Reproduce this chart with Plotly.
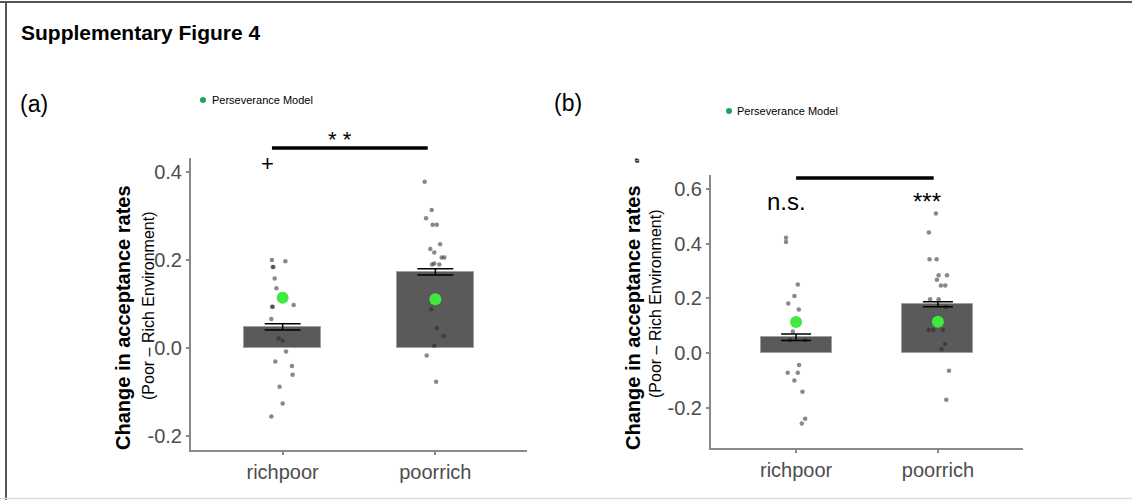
import plotly.graph_objects as go

W, H = 1132, 500

# ---------------- data ----------------
categories = ["richpoor", "poorrich"]
cat_pos = [1, 2]

# Panel (a)
a_bar_means = [0.048, 0.173]
a_bar_se = [0.007, 0.007]
a_model = [0.114, 0.111]
a_rich_vals = [0.200, 0.197, 0.184, 0.184, 0.158, 0.136, 0.094, 0.094, 0.098, 0.066,
               0.022, 0.017, -0.008, -0.031, -0.041, -0.061, -0.088, -0.126, -0.156]
a_rich_jitter = [-0.07, 0.018, -0.065, -0.06, -0.052, -0.041, -0.069, -0.065, 0.072, -0.074,
                 -0.026, 0.0, 0.022, -0.048, 0.061, 0.065, -0.02, 0.0, -0.074]
a_poor_vals = [0.378, 0.314, 0.295, 0.280, 0.280, 0.236, 0.225, 0.217, 0.206, 0.206,
               0.190, 0.190, 0.192, 0.088, 0.045, 0.027, 0.005, -0.017, -0.077]
a_poor_jitter = [-0.07, -0.024, -0.061, -0.018, 0.009, 0.031, -0.033, -0.007, 0.041, 0.059,
                 -0.022, 0.026, -0.007, -0.028, 0.009, 0.054, -0.007, -0.057, 0.005]
a_yticks = [-0.2, 0.0, 0.2, 0.4]
a_yticktext = ["-0.2", "0.0", "0.2", "0.4"]

# Panel (b)
b_bar_means = [0.057, 0.178]
b_bar_se = [0.012, 0.009]
b_model = [0.113, 0.114]
b_rich_vals = [0.421, 0.406, 0.250, 0.208, 0.181, 0.159, 0.078, 0.047, 0.047, -0.044,
               -0.073, -0.073, -0.101, -0.142, -0.241, -0.258]
b_rich_jitter = [-0.071, -0.071, 0.012, -0.012, -0.055, 0.019, -0.023, -0.043, 0.064, 0.021,
                 -0.059, 0.012, -0.012, 0.045, 0.064, 0.04]
b_poor_vals = [0.510, 0.441, 0.343, 0.343, 0.284, 0.284, 0.268, 0.247, 0.247, 0.196,
               0.196, 0.168, 0.084, 0.084, 0.084, 0.033, 0.013, -0.065, -0.171]
b_poor_jitter = [-0.014, -0.064, -0.059, -0.009, 0.005, 0.064, -0.007, 0.021, 0.052, -0.055,
                 0.005, 0.057, -0.066, -0.033, 0.035, 0.052, 0.026, 0.078, 0.059]
b_yticks = [-0.2, 0.0, 0.2, 0.4, 0.6]
b_yticktext = ["-0.2", "0.0", "0.2", "0.4", "0.6"]

title_text = "Supplementary Figure 4"
ytitle_main = "Change in acceptance rates"
ytitle_sub = "(Poor – Rich Environment)"
legend_label = "Perseverance Model"

# ---------------- helpers ----------------
def px(x):
    return x / W

def py(y):
    return 1 - y / H

FONT = "Arial, Liberation Sans, sans-serif"
BAR_COLOR = "#5a5a5a"
PT_COLOR = "rgba(40,40,40,0.55)"
MODEL_COLOR = "#3fe93f"
LEG_COLOR = "#1fa35c"
AXIS_COLOR = "#8a8a8a"
TICK_FONT = dict(family=FONT, size=20, color="#4d4d4d")

fig = go.Figure()

def add_panel(xa, ya, means, se, model, rv, rj, pv, pj, capw):
    fig.add_trace(go.Bar(
        x=cat_pos, y=means, width=0.5, xaxis=xa, yaxis=ya,
        marker=dict(color=BAR_COLOR, line=dict(color="#a0a0a0", width=1)),
        showlegend=False, hoverinfo="skip"))
    fig.add_trace(go.Scatter(
        x=[cat_pos[0] + j for j in rj] + [cat_pos[1] + j for j in pj],
        y=rv + pv, mode="markers", xaxis=xa, yaxis=ya,
        marker=dict(color=PT_COLOR, size=4.5),
        showlegend=False, hoverinfo="skip"))
    fig.add_trace(go.Scatter(
        x=cat_pos, y=means, mode="markers", xaxis=xa, yaxis=ya,
        marker=dict(color="rgba(0,0,0,0)", size=1),
        error_y=dict(type="data", array=se, color="black", thickness=1.5, width=capw),
        showlegend=False, hoverinfo="skip"))
    fig.add_trace(go.Scatter(
        x=cat_pos, y=model, mode="markers", xaxis=xa, yaxis=ya,
        marker=dict(color=MODEL_COLOR, size=12),
        showlegend=False, hoverinfo="skip"))

add_panel("x", "y", a_bar_means, a_bar_se, a_model,
          a_rich_vals, a_rich_jitter, a_poor_vals, a_poor_jitter, 18)
add_panel("x2", "y2", b_bar_means, b_bar_se, b_model,
          b_rich_vals, b_rich_jitter, b_poor_vals, b_poor_jitter, 15)

axis_common = dict(showgrid=False, zeroline=False, showline=True, linecolor=AXIS_COLOR,
                   linewidth=2, ticks="outside", ticklen=3, tickcolor=AXIS_COLOR,
                   tickwidth=1.5, tickfont=TICK_FONT, fixedrange=True)

fig.update_layout(
    width=W, height=H,
    margin=dict(l=0, r=0, t=0, b=0),
    paper_bgcolor="white", plot_bgcolor="white",
    showlegend=False,
    bargap=0,
    xaxis=dict(domain=[px(191), px(527)], range=[0.4, 2.6], tickvals=cat_pos,
               ticktext=categories, anchor="y", **axis_common),
    yaxis=dict(domain=[py(450), py(158)], range=[-0.232, 0.432], tickvals=a_yticks,
               ticktext=a_yticktext, anchor="x", **axis_common),
    xaxis2=dict(domain=[px(711), px(1023)], range=[0.4, 2.6], tickvals=cat_pos,
                ticktext=categories, anchor="y2", **axis_common),
    yaxis2=dict(domain=[py(448), py(175)], range=[-0.348, 0.651], tickvals=b_yticks,
                ticktext=b_yticktext, anchor="x2", **axis_common),
)

ann = []
def txt(text, x, y, size, **kw):
    d = dict(text=text, x=x, y=y, xref="paper", yref="paper", showarrow=False,
             font=dict(family=FONT, size=size, color=kw.pop("color", "black")))
    d.update(kw)
    ann.append(d)

txt("<b>" + title_text + "</b>", px(19), py(32), 21, xanchor="left", yanchor="middle")
txt("(a)", px(18), py(104), 23, xanchor="left", yanchor="middle")
txt("(b)", px(552), py(103), 23, xanchor="left", yanchor="middle")

# legends
txt(legend_label, px(210), py(100), 11, xanchor="left", yanchor="middle")
txt(legend_label, px(735), py(111), 11, xanchor="left", yanchor="middle")

# y-axis titles
txt("<b>" + ytitle_main + "</b>", px(123), py(318), 20, textangle=-90,
    xanchor="center", yanchor="middle")
txt(ytitle_sub, px(148), py(306), 16, textangle=-90, xanchor="center", yanchor="middle")
txt("<b>" + ytitle_main + "</b>", px(633), py(318), 20, textangle=-90,
    xanchor="center", yanchor="middle")
txt(ytitle_sub, px(655), py(304), 16, textangle=-90, xanchor="center", yanchor="middle")
txt("<b>ø</b>", px(636), py(161), 8, textangle=-90, xanchor="center", yanchor="middle")

# significance markers
txt("* *", px(340), py(139), 22, xanchor="center", yanchor="middle")
txt("+", px(267), py(163), 22, xanchor="center", yanchor="middle")
txt("n.s.", px(786), py(201), 24, xanchor="center", yanchor="middle")
txt("***", px(927), py(201), 24, xanchor="center", yanchor="middle")

fig.update_layout(annotations=ann)

shapes = [
    # significance bars (y in paper space so they are not clipped above the axis)
    dict(type="line", xref="x", yref="paper", x0=0.93, x1=1.95, y0=py(148), y1=py(148),
         line=dict(color="black", width=3.5)),
    dict(type="line", xref="x2", yref="paper", x0=1.0, x1=1.97, y0=py(178), y1=py(178),
         line=dict(color="black", width=3.5)),
    # legend dots
    dict(type="circle", xref="paper", yref="paper", x0=px(200), x1=px(206),
         y0=py(103), y1=py(97), fillcolor=LEG_COLOR, line=dict(width=0)),
    dict(type="circle", xref="paper", yref="paper", x0=px(726), x1=px(732),
         y0=py(114), y1=py(108), fillcolor=LEG_COLOR, line=dict(width=0)),
    # frame
    dict(type="line", xref="paper", yref="paper", x0=0, x1=1, y0=py(2), y1=py(2),
         line=dict(color="#555555", width=2)),
    dict(type="line", xref="paper", yref="paper", x0=px(6), x1=px(6), y0=py(2), y1=py(500),
         line=dict(color="#555555", width=2)),
    dict(type="line", xref="paper", yref="paper", x0=0, x1=1, y0=py(498.5), y1=py(498.5),
         line=dict(color="#dddddd", width=1.5)),
]
fig.update_layout(shapes=shapes)

fig.write_html("out.html", config={"displayModeBar": False},
               post_script="document.body.style.margin='0';")
